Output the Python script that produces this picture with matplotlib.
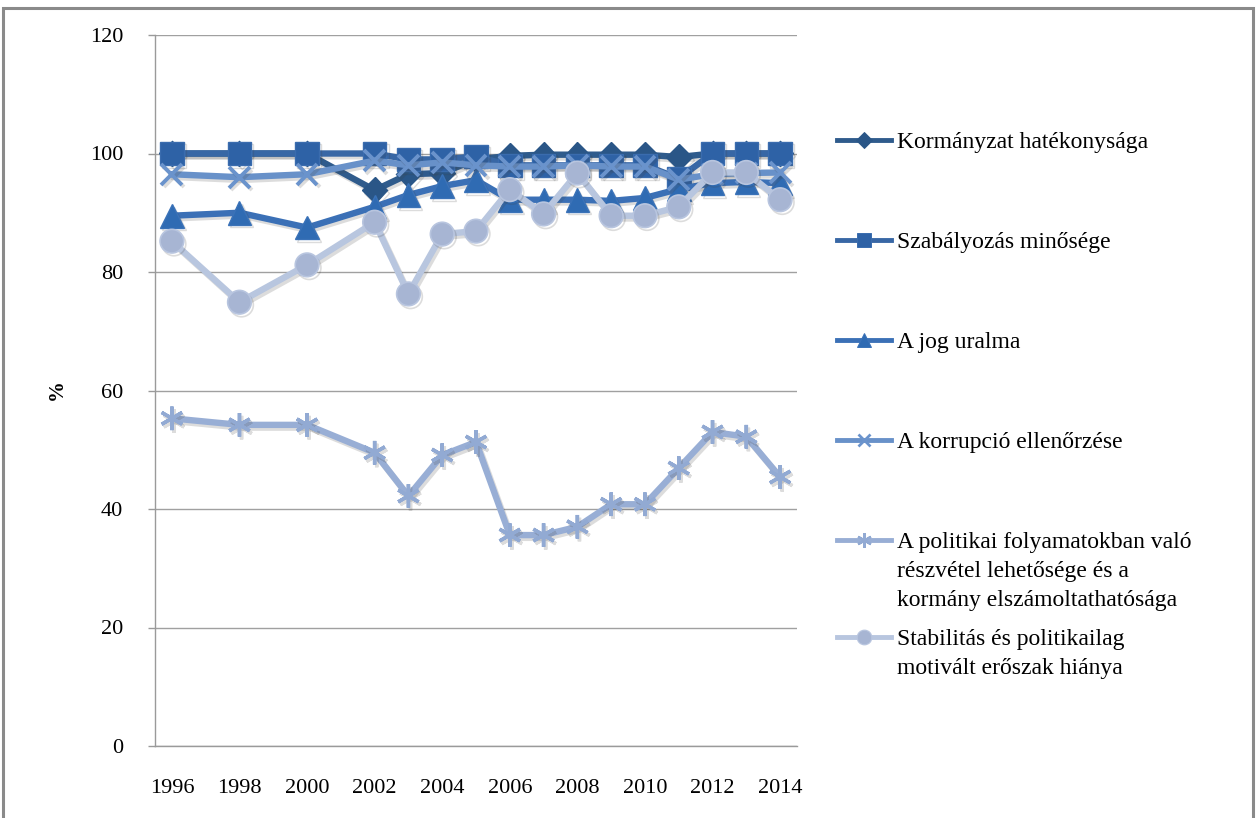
import matplotlib
matplotlib.use("Agg")
import matplotlib.pyplot as plt
from matplotlib.lines import Line2D
from matplotlib.patches import Rectangle
import matplotlib.patheffects as pe

plt.rcParams['font.family'] = ['Liberation Serif', 'DejaVu Serif']

years = [1996, 1998, 2000, 2002, 2003, 2004, 2005, 2006, 2007, 2008,
         2009, 2010, 2011, 2012, 2013, 2014]

korm_hatekonysag = [100, 100, 100, 93.8, 96.5, 96.7, 99.0, 99.6, 99.8, 99.8,
                    99.8, 99.8, 99.4, 100, 100, 100]
szabalyozas = [100, 100, 100, 100, 99.0, 99.0, 99.5, 98.0, 98.0, 98.0,
               98.0, 98.0, 95.8, 100, 100, 100]
jog_uralma = [89.5, 90.0, 87.5, 91.0, 93.0, 94.5, 95.5, 92.2, 92.2, 92.2,
              92.0, 92.5, 94.0, 95.0, 95.2, 95.0]
korrupcio = [96.5, 96.0, 96.5, 98.8, 98.0, 98.5, 98.0, 97.8, 97.8, 98.0,
             97.8, 97.8, 95.6, 96.5, 96.7, 96.8]
reszvetel = [55.3, 54.2, 54.2, 49.5, 42.2, 49.1, 51.3, 35.6, 35.6, 37.0,
             40.8, 40.8, 46.9, 53.0, 52.2, 45.4]
stabilitas = [85.2, 74.9, 81.2, 88.4, 76.3, 86.4, 86.9, 93.9, 89.8, 96.7,
              89.5, 89.5, 91.0, 96.8, 96.8, 92.2]

labels = [
    "Kormányzat hatékonysága",
    "Szabályozás minősége",
    "A jog uralma",
    "A korrupció ellenőrzése",
    "A politikai folyamatokban való\nrészvétel lehetősége és a\nkormány elszámoltathatósága",
    "Stabilitás és politikailag\nmotivált erőszak hiánya",
]
series = [korm_hatekonysag, szabalyozas, jog_uralma, korrupcio, reszvetel, stabilitas]

# line colour, marker, marker face, marker edge, marker size, marker edge width
styles = [
    ('#2f5b8c', 'D', '#2a5687', '#2a5687', 13, 1.0),
    ('#3867a5', 's', '#2e62a6', '#3a6cae', 17, 1.0),
    ('#3b70b6', '^', '#2f6bb3', '#3a72b8', 17, 1.0),
    ('#6891c9', 'x', '#6a93cc', '#6a93cc', 15, 2.8),
    ('#98aed5', (6, 2, 0), '#92aad3', '#92aad3', 17, 2.5),
    ('#b8c6df', 'o', '#a7b5d3', '#b8c5df', 17, 1.2),
]

W, H = 1258, 818
fig = plt.figure(figsize=(W / 100, H / 100), dpi=100)
ax = fig.add_axes([155 / W, 1 - 746 / H, (797 - 155) / W, (746 - 35) / H])

shadow = [pe.SimpleLineShadow(offset=(1.5, -2), shadow_color='#404040', alpha=0.18),
          pe.Normal()]

for vals, (lc, mk, mfc, mec, ms, mew) in zip(series, styles):
    ax.plot(years, vals, color=lc, lw=4.6, marker=mk, markersize=ms,
            markerfacecolor=mfc, markeredgecolor=mec, markeredgewidth=mew,
            solid_joinstyle='round', path_effects=shadow, zorder=3)

ax.set_xlim(1995.5, 2014.5)
ax.set_ylim(0, 120)
ax.set_xticks(list(range(1996, 2015, 2)))
ax.set_yticks(list(range(0, 121, 20)))
ax.tick_params(axis='x', length=0, pad=24, labelsize=16)
ax.tick_params(axis='y', length=5, width=1, color='#9a9a9a', pad=18, labelsize=16)
ax.yaxis.grid(True, color='#a0a0a0', lw=1.0)
ax.set_axisbelow(True)
for s in ('top', 'right'):
    ax.spines[s].set_visible(False)
for s in ('left', 'bottom'):
    ax.spines[s].set_color('#9a9a9a')
    ax.spines[s].set_linewidth(1.0)

fig.text(57 / W, 1 - 390 / H, '%', rotation=90, ha='center', va='center',
         fontsize=15, fontweight='bold')

# legend drawn row by row, handle aligned with the first text line
row_y = [140, 240, 340, 440, 540, 637]
line_gap = 29
for (lc, mk, mfc, mec, ms, mew), lab, y in zip(styles, labels, row_y):
    yf = 1 - y / H
    fig.add_artist(Line2D([837 / W, 891 / W], [yf, yf], transform=fig.transFigure,
                          color=lc, lw=3.5))
    fig.add_artist(Line2D([864 / W], [yf], transform=fig.transFigure,
                          marker=mk, markersize=ms * 0.62, markerfacecolor=mfc,
                          markeredgecolor=mec, markeredgewidth=mew * 0.7,
                          linestyle='none'))
    for i, part in enumerate(lab.split('\n')):
        fig.text(897 / W, 1 - (y + i * line_gap) / H, part, ha='left',
                 va='center_baseline', fontsize=17)

fig.add_artist(Rectangle((3 / W, -0.02), (1253 - 3) / W, 1 - 8 / H + 0.02,
                         transform=fig.transFigure, fill=False,
                         edgecolor='#8a8a8a', lw=2.2))

fig.savefig('out.png', dpi=100)
